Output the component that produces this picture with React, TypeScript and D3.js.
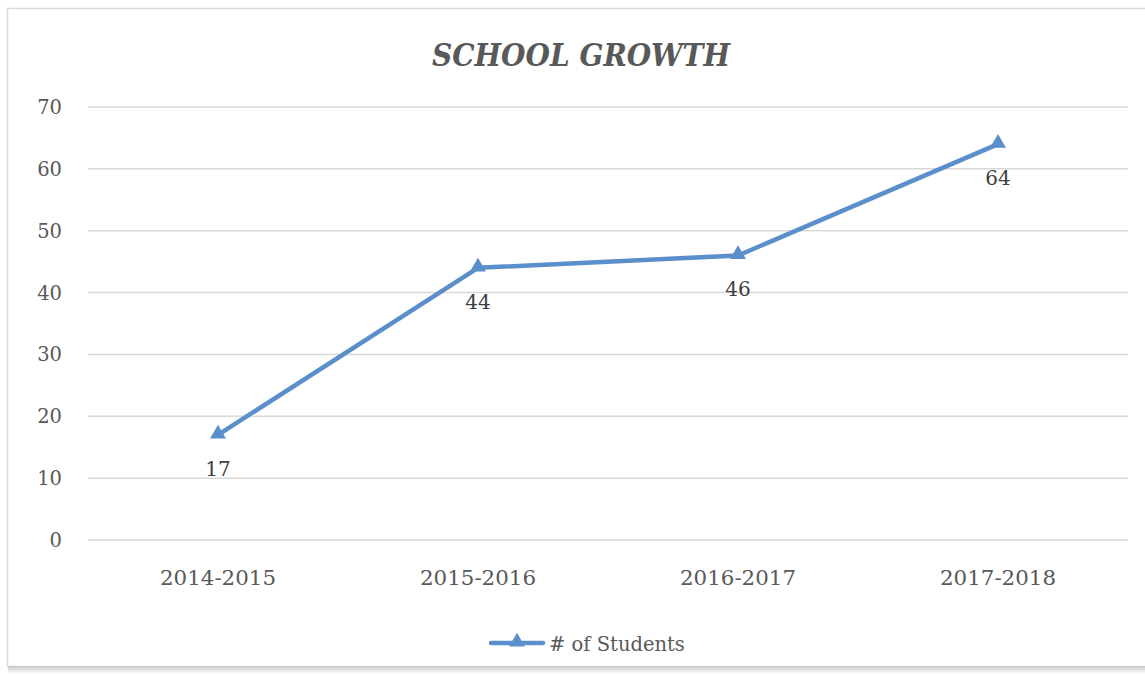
import React from "react";
import * as d3 from "d3";

const categories = ["2014-2015", "2015-2016", "2016-2017", "2017-2018"];
const students = [17, 44, 46, 64];
const yTicks = [0, 10, 20, 30, 40, 50, 60, 70];
const seriesName = "# of Students";
const title = "SCHOOL GROWTH";

const W = 1145, H = 675;
const FONT = "'DejaVu Serif', 'Liberation Serif', serif";
const BLUE = "#5b8fcb";
const TEXT = "#595959";

export default function App() {
  const x = d3.scaleBand<string>().domain(categories).range([88, 1128]);
  const y = d3.scaleLinear().domain([0, 70]).range([540, 107]);
  const cx = (c: string) => (x(c) as number) + x.bandwidth() / 2;
  const line = d3.line<number>().x((_, i) => cx(categories[i])).y((d) => y(d));
  const tri = d3.symbol().type(d3.symbolTriangle).size(110)();

  return (
    <svg width={W} height={H} style={{ position: "absolute", left: 0, top: 0, background: "#fff" }}>
      <defs>
        <linearGradient id="sh" x1="0" y1="0" x2="0" y2="1">
          <stop offset="0" stopColor="#c8c8c8" />
          <stop offset="1" stopColor="#ffffff" />
        </linearGradient>
      </defs>
      <rect x={7.5} y={8.5} width={1150} height={658} fill="#fff" stroke="#d9d9d9" strokeWidth={1.5} />
      <rect x={8} y={666} width={1140} height={8} fill="url(#sh)" />
      <text x={581} y={66} textAnchor="middle" fontFamily={FONT} fontWeight="bold" fontStyle="italic" fontSize={31} fill={TEXT} textLength={298} lengthAdjust="spacingAndGlyphs">
        {title}
      </text>
      {yTicks.map((t) => (
        <g key={t}>
          <line x1={88} x2={1128} y1={y(t)} y2={y(t)} stroke="#d9d9d9" strokeWidth={1.5} />
          <text x={62} y={y(t) + 7} textAnchor="end" fontFamily={FONT} fontSize={19.5} fill={TEXT}>
            {t}
          </text>
        </g>
      ))}
      {categories.map((c) => (
        <text key={c} x={cx(c)} y={585} textAnchor="middle" fontFamily={FONT} fontSize={20.5} fill={TEXT} textLength={116} lengthAdjust="spacingAndGlyphs">
          {c}
        </text>
      ))}
      <path d={line(students) as string} fill="none" stroke={BLUE} strokeWidth={4.5} strokeLinejoin="round" />
      {students.map((v, i) => (
        <g key={i}>
          <path d={tri as string} transform={`translate(${cx(categories[i])},${y(v) - 1})`} fill={BLUE} />
          <text x={cx(categories[i])} y={y(v) + 41} textAnchor="middle" fontFamily={FONT} fontSize={20} fill="#404040">
            {v}
          </text>
        </g>
      ))}
      <line x1={491} x2={543} y1={643} y2={643} stroke={BLUE} strokeWidth={4.5} strokeLinecap="round" />
      <path d={tri as string} transform="translate(517,642)" fill={BLUE} />
      <text x={549} y={651} fontFamily={FONT} fontSize={19.5} fill={TEXT}>
        {seriesName}
      </text>
    </svg>
  );
}
